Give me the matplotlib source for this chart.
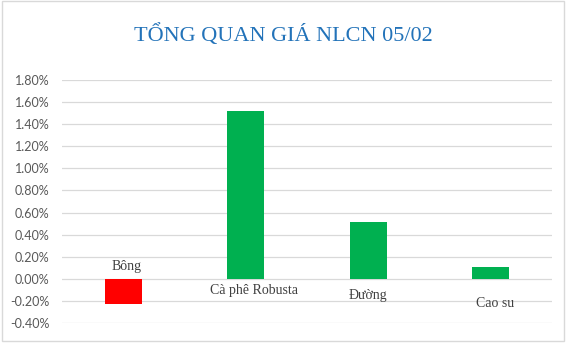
import matplotlib
matplotlib.use("Agg")
import matplotlib.pyplot as plt
from matplotlib.patches import Rectangle

categories = ["Bông", "Cà phê Robusta", "Đường", "Cao su"]
values = [-0.23, 1.52, 0.51, 0.11]
label_y = [0.11, -0.11, -0.15, -0.22]
label_dx = [0.03, 0.07, 0.0, 0.04]
yticks = [-0.4, -0.2, 0.0, 0.2, 0.4, 0.6, 0.8, 1.0, 1.2, 1.4, 1.6, 1.8]
title = "TỔNG QUAN GIÁ NLCN 05/02"

colors = ["#FF0000" if v < 0 else "#00B050" for v in values]

fig = plt.figure(figsize=(5.66, 3.43), dpi=100)
ax = fig.add_axes([0.1095, 0.0583, 0.8655, 0.7085])
x = list(range(len(categories)))
ax.bar(x, values, width=0.3, color=colors, zorder=3)
ax.set_xlim(-0.5, 3.5)
ax.set_ylim(-0.4, 1.8)
ax.set_yticks(yticks)
ax.set_yticklabels([f"{t:.2f}%" for t in yticks], fontsize=9, color="#595959", family="Lato")
ax.tick_params(axis="y", length=0, pad=9)
ax.set_xticks([])
ax.grid(axis="y", color="#D9D9D9", linewidth=0.9, zorder=0)
for s in ax.spines.values():
    s.set_visible(False)
for i, c in enumerate(categories):
    ax.text(i + label_dx[i], label_y[i], c, ha="center", va="center",
            fontsize=10, family="Liberation Serif", color="#404040", zorder=4)
fig.text(0.5, 0.897, title, ha="center", va="center", fontsize=16,
         family="Liberation Serif", color="#2373B9")
fig.patches.append(Rectangle((0.003, 0.006), 0.994, 0.99, transform=fig.transFigure,
                             fill=False, edgecolor="#D9D9D9", linewidth=1))
fig.savefig("out.png", dpi=100)
